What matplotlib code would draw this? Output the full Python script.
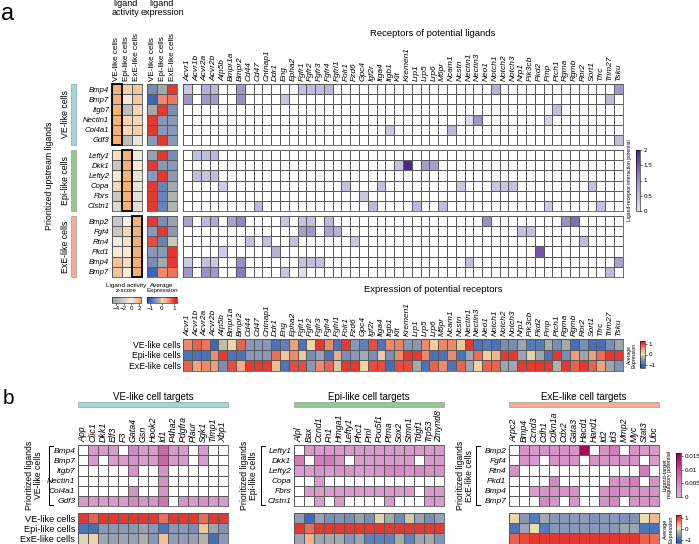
import numpy as np
import matplotlib
matplotlib.use('Agg')
import matplotlib.pyplot as plt
from matplotlib import font_manager
from matplotlib.colors import LinearSegmentedColormap, Normalize
from matplotlib.cm import ScalarMappable
from matplotlib.patches import Rectangle
from matplotlib.lines import Line2D

_names = {f.name for f in font_manager.fontManager.ttflist}
SANS = 'Liberation Sans' if 'Liberation Sans' in _names else 'DejaVu Sans'
NARROW = 'Liberation Sans Narrow' if 'Liberation Sans Narrow' in _names else SANS
plt.rcParams['font.family'] = [SANS, 'DejaVu Sans']

n = np.nan

# ---------------- panel a data ----------------
cell_types = ['VE-like cells', 'Epi-like cells', 'ExE-like cells']
group_names = ['VE-like cells', 'Epi-like cells', 'ExE-like cells']
ve_ligands = ['Bmp4', 'Bmp7', 'Itgb7', 'Nectin1', 'Col4a1', 'Gdf3']
epi_ligands = ['Lefty1', 'Dkk1', 'Lefty2', 'Copa', 'Fbrs', 'Clstn1']
exe_ligands = ['Bmp2', 'Fgf4', 'Rtn4', 'Pkd1', 'Bmp4', 'Bmp7']

# ligand activity z-score (columns: VE, Epi, ExE)
ve_activity = [[2.0, 1.0, 1.3], [2.0, 0.3, 1.2], [2.0, -3.0, 0.8],
               [2.0, 0.8, 0.8], [2.0, 0.7, 1.0], [2.0, -3.0, -0.6]]
epi_activity = [[0.5, 2.0, -0.5], [-2.5, 2.0, 0.2], [0.3, 2.0, -0.8],
                [0.8, 2.0, -0.8], [-2.5, 2.0, -1.0], [-1.5, 2.0, -1.0]]
exe_activity = [[-2.5, 0.0, 2.0], [-2.5, 0.8, 2.0], [-0.3, 0.5, 2.0],
                [0.2, 0.2, 2.0], [1.5, 0.6, 2.0], [1.4, 0.1, 2.0]]

# ligand average expression (columns: VE, Epi, ExE)
ve_lig_expr = [[-0.6, -0.3, 1.0], [-1.0, 0.6, 0.7], [-0.3, 1.0, -0.6],
               [1.0, -0.5, -0.5], [1.0, -0.5, -0.5], [-0.5, 1.0, -0.5]]
epi_lig_expr = [[-0.4, 1.0, -0.6], [1.0, -0.5, -0.5], [-0.5, 1.0, -0.5],
                [1.0, -0.7, -0.3], [1.0, -0.7, -0.2], [1.0, -0.7, -0.2]]
exe_lig_expr = [[1.0, -0.6, -0.4], [-0.5, 1.0, -0.5], [0.9, -0.7, -0.1],
                [-0.5, -0.5, 1.0], [-0.6, -0.3, 1.0], [-1.0, 0.6, 0.7]]

receptors = ['Acvr1', 'Acvr1b', 'Acvr2a', 'Acvr2b', 'Atp5b', 'Bmpr1a', 'Bmpr2', 'Cd44',
             'Cd47', 'Cntnap1', 'Ddr1', 'Eng', 'Epha2', 'Fgfr1', 'Fgfr2', 'Fgfr3', 'Fgfr4',
             'Fgfrl1', 'Folr1', 'Fzd6', 'Gpc4', 'Igf2r', 'Itga4', 'Itgb1', 'Kit', 'Kremen1',
             'Lrp1', 'Lrp5', 'Lrp6', 'M6pr', 'Ncam1', 'Ncstn', 'Nectin1', 'Nectin3', 'Neo1',
             'Notch1', 'Notch2', 'Notch3', 'Nrp1', 'Pik3cb', 'Pkd2', 'Pmp', 'Ptch1', 'Rgma',
             'Rgmb', 'Ror2', 'Sort1', 'Tfrc', 'Trim27', 'Tsku']

# ligand-receptor interaction potential (only non-empty cells)
ve_lr = [
    {'Acvr1': 0.35, 'Acvr2a': 0.6, 'Acvr2b': 0.55, 'Bmpr2': 0.9, 'Fgfr1': 0.4, 'Fgfr2': 0.45,
     'Fgfr3': 0.45, 'Fgfr4': 0.5, 'Notch1': 0.6, 'Tsku': 0.9},
    {'Acvr1': 0.95, 'Acvr2a': 0.9, 'Acvr2b': 0.85, 'Bmpr2': 1.0, 'Eng': 0.35, 'Trim27': 0.5},
    {'Ptch1': 0.45},
    {'Nectin1': 0.08, 'Nectin3': 0.95, 'Pmp': 0.2},
    {'Itgb1': 0.35, 'Ncam1': 0.5},
    {'Tsku': 0.45},
]
epi_lr = [
    {'Acvr1b': 0.45, 'Acvr2a': 0.45, 'Acvr2b': 0.5},
    {'Kit': 0.4, 'Kremen1': 2.0, 'Lrp5': 0.85, 'Lrp6': 0.8},
    {'Acvr1b': 0.45, 'Acvr2a': 0.4, 'Acvr2b': 0.45},
    {'Atp5b': 0.3, 'Folr1': 0.4, 'Itga4': 0.4, 'Ncstn': 0.35, 'Notch1': 0.35, 'Notch2': 0.35,
     'Notch3': 0.4, 'Sort1': 0.4},
    {'Gpc4': 0.35},
    {'Cd47': 0.5, 'Igf2r': 0.5, 'Lrp1': 0.5, 'M6pr': 0.45, 'Pmp': 0.3, 'Tfrc': 0.4},
]
exe_lr = [
    {'Acvr1': 0.8, 'Acvr2a': 0.5, 'Acvr2b': 0.7, 'Bmpr1a': 0.8, 'Bmpr2': 1.1, 'Eng': 0.35,
     'Fgfr1': 0.4, 'Fgfr2': 0.4, 'Fgfr4': 0.5, 'Neo1': 1.0, 'Rgma': 1.0, 'Rgmb': 1.3},
    {'Fgfr1': 0.8, 'Fgfr2': 0.9, 'Fgfr4': 0.75, 'Fgfrl1': 0.6, 'Nrp1': 0.4, 'Pik3cb': 0.4},
    {'Cd44': 0.4, 'Cntnap1': 0.4, 'Epha2': 0.4, 'Fzd6': 0.35, 'Ror2': 0.45},
    {'Atp5b': 0.3, 'Ddr1': 0.6, 'Pkd2': 1.5},
    {'Acvr1': 0.3, 'Acvr2a': 0.4, 'Acvr2b': 0.35, 'Bmpr2': 1.0, 'Fgfr1': 0.4, 'Fgfr2': 0.45,
     'Fgfr3': 0.4, 'Nectin1': 0.4, 'Tsku': 0.8},
    {'Acvr1': 0.9, 'Acvr2a': 1.0, 'Acvr2b': 0.9, 'Bmpr2': 1.2, 'Eng': 0.35, 'Fgfr1': 0.05,
     'Trim27': 0.5},
]

# receptor average expression
rec_expr_ve = [0.6, 0.8, 0.7, -1.0, -0.15, 0.1, 0.8, -0.5, -0.5, -0.5, -0.85, -0.75, 0.5, -0.85,
               0.1, 1.0, 0.6, -0.85, 1.0, -0.5, -0.75, 0.9, -0.85, 0.6, 0.65, -0.5, -0.5, 0.6,
               0.15, 0.6, 0.6, 0.2, 1.0, -0.85, -0.8, -0.85, -0.6, -0.6, -0.35, -0.8, -0.8,
               -0.3, -0.6, -0.3, -0.9, -0.6, -0.9, -0.9, -0.6, -0.35]
rec_expr_epi = [-0.85, -0.85, -0.85, 0.6, 1.0, -0.85, -0.85, -0.5, -0.5, -0.5, 0.75, 0.2, 0.6,
                0.2, -0.6, -0.4, -0.85, 0.4, -0.6, -0.5, -0.3, -0.6, 0.15, -0.6, 0.6, 1.0, 1.0,
                0.6, -0.85, -0.85, 0.6, -0.85, -0.35, 0.75, 0.15, 0.35, 1.0, 1.0, -0.35, 0.15,
                -0.35, -0.85, 1.0, -0.6, 0.5, -0.35, 0.5, 0.75, 1.0, 1.0]
rec_expr_exe = [0.8, 0.45, 0.6, 0.5, -0.6, 0.9, 0.4, 1.0, 1.0, 1.0, 0.3, -0.85, 0.9, 0.9, -0.5,
                0.6, 0.8, -0.1, 1.0, 1.0, 0.1, 0.9, 0.9, -0.9, 0.9, 0.9, -0.3, -0.85, 0.8, 0.6,
                -0.85, 0.8, -0.35, 0.1, 0.8, 0.8, -0.35, -0.35, 1.0, 1.0, 1.0, 1.0, -0.2, 1.0,
                0.8, 1.0, 0.8, 0.45, -0.35, -0.55]

# ---------------- panel b data ----------------
ve_targets = ['App', 'Clic1', 'Dkk1', 'Elf3', 'F3', 'Gata4', 'Gsn', 'Hook2', 'Id1', 'P4ha2',
              'Pdgfra', 'Plaur', 'Sgk1', 'Timp1', 'Xbp1']
epi_targets = ['Alpl', 'Bax', 'Ccnd1', 'Fn1', 'Hmga1', 'Lefty1', 'Phc1', 'Pml', 'Pou5f1', 'Ptma',
               'Sox2', 'Stmn1', 'Tdgf1', 'Trp53', 'Zmynd8']
exe_targets = ['Arpc2', 'Bmp4', 'Ccnd3', 'Cdh1', 'Cdkn1a', 'Cdx2', 'Gata3', 'Hacd1', 'Hand1',
               'Id2', 'Id3', 'Mmp2', 'Myc', 'Stat3', 'Ubc']

ve_reg = [
    [n, .003, .003, .003, n, .005, .003, .003, .008, .003, .003, n, .003, n, n],
    [n, .003, n, .003, .003, .004, .003, .003, .008, .003, .003, n, .003, n, n],
    [n, n, n, n, n, .004, n, n, .004, n, n, n, n, n, n],
    [n, n, n, n, n, n, n, n, .004, n, n, n, n, n, n],
    [n, n, n, n, n, .004, n, n, .004, n, n, n, n, n, n],
    [.003, .003, .003, .003, .003, .005, .004, .004, .007, n, .004, .003, .004, .003, .003],
]
epi_reg = [
    [n, .003, .003, .003, .003, .003, .003, .003, .003, .003, .003, .003, .003, .003, .003],
    [.006, n, .006, .006, .004, n, .003, .003, .003, .003, .003, .003, n, .003, .003],
    [.003, .003, .004, .003, .004, .004, .003, .003, .004, .005, .005, .004, .005, .004, .004],
    [n, n, .003, n, n, n, n, n, n, n, n, n, n, n, n],
    [n, .003, .003, .003, .003, .003, .003, .003, .003, .003, .003, .003, n, .003, .003],
    [n, n, .003, n, .003, n, n, n, n, .003, n, n, n, .003, .003],
]
exe_reg = [
    [n, .004, .003, .004, .004, .004, .004, .015, n, .004, .006, n, .004, .003, .003],
    [n, .004, .003, n, .004, .004, .004, n, .004, .004, .004, .004, .004, n, .003],
    [.004, n, n, n, n, n, n, n, n, n, n, n, n, .006, n],
    [n, n, n, n, .005, n, n, n, n, n, .004, .004, .006, n, .004],
    [n, n, .003, .004, .004, .004, .004, n, n, .004, .005, .004, .004, .004, .004],
    [n, n, n, .005, .004, n, .004, n, n, .004, .005, n, .004, .004, .004],
]

ve_target_expr = [
    [1.0, 0.8, 1.0, 1.0, 1.0, 1.0, 1.0, 1.0, 0.75, 1.0, 1.0, 1.0, 0.75, 1.0, 1.0],
    [-0.85, -0.9, -0.5, -0.5, -0.5, -0.5, -0.4, -0.5, -0.85, -0.5, -0.5, -0.6, 0.2, -0.35, -0.55],
    [-0.05, 0.1, -0.35, -0.4, -0.35, -0.4, -0.25, -0.5, 0.25, -0.45, -0.45, -0.4, -0.2, -0.9, -0.5],
]
epi_target_expr = [
    [-0.45, -0.95, -0.4, -0.6, -0.55, -0.6, -0.4, -0.6, -0.05, -0.3, -0.65, -0.1, -0.4, -0.6, -0.4],
    [1.0, 0.75, 1.0, 1.0, 1.0, 1.0, 1.0, 1.0, 1.0, 1.0, 1.0, 1.0, 1.0, 1.0, 1.0],
    [-0.35, 0.35, -0.35, -0.3, -0.3, -0.55, -0.35, -0.75, -0.75, -0.75, -0.3, -0.75, -0.35, -0.3, -0.55],
]
exe_target_expr = [
    [0.1, -0.5, -0.8, -0.3, -0.5, -0.5, -0.5, -0.45, -0.55, -0.5, -0.5, -0.55, -0.55, 0.05, 0.3],
    [-0.85, -0.35, 0.05, -0.8, -0.5, -0.5, -0.5, -0.5, -0.5, -0.5, -0.5, -0.35, -0.35, -0.85, -0.85],
    [0.8, 0.9, 1.0, 1.0, 1.0, 1.0, 1.0, 1.0, 1.0, 1.0, 1.0, 1.0, 1.0, 0.8, 0.75],
]

# ---------------- colours ----------------
group_colors = ['#9ed8dc', '#92c98c', '#f2ad96']
act_cmap = LinearSegmentedColormap.from_list(
    'act', [(0, '#9c9c9c'), (0.4, '#cfcfcc'), (0.667, '#f6f0e2'), (1.0, '#f4a15a')])
act_norm = Normalize(-5, 2.5)
exp_cmap = LinearSegmentedColormap.from_list(
    'exp', [(0, '#2a5bb3'), (0.12, '#3d6bb9'), (0.3, '#8a98b6'), (0.42, '#b1b2aa'),
            (0.5, '#ece3b0'), (0.7, '#ef9f7b'), (0.9, '#e43a30'), (1.0, '#dd2020')])
exp_norm = Normalize(-1.25, 1.25)
lr_cmap = LinearSegmentedColormap.from_list(
    'lr', [(0, '#e4e4f2'), (0.2, '#c2c2e0'), (0.5, '#9b90c6'), (0.75, '#7058a9'), (1, '#4a288a')])
lr_cmap.set_bad('white')
lr_norm = Normalize(0, 2)
reg_cmap = LinearSegmentedColormap.from_list(
    'reg', [(0, '#dcb4da'), (0.3, '#d58cc4'), (0.6, '#c8539a'), (1, '#99004c')])
reg_cmap.set_bad('white')
reg_norm = Normalize(0, 0.016)

W, H = 699, 544
fig = plt.figure(figsize=(W / 100, H / 100), dpi=100)


def fx(x):
    return x / W


def fy(y):
    return 1 - y / H


def px_axes(x0, y0, x1, y1):
    return fig.add_axes([fx(x0), fy(y1), (x1 - x0) / W, (y1 - y0) / H])


def ftext(x, y, s, **kw):
    kw.setdefault('ha', 'center')
    kw.setdefault('va', 'center')
    fig.text(fx(x), fy(y), s, **kw)


def heatmap(ax, data, cmap, norm, ec='#5a5a5a', lw=0.5):
    arr = np.ma.masked_invalid(np.array(data, dtype=float))
    ax.pcolormesh(arr, cmap=cmap, norm=norm, edgecolors=ec, linewidth=lw)
    ax.set_xlim(0, arr.shape[1])
    ax.set_ylim(arr.shape[0], 0)
    ax.set_xticks([])
    ax.set_yticks([])
    ax.tick_params(length=0, pad=2)
    for s in ax.spines.values():
        s.set_linewidth(0.6)
        s.set_color(ec)
    return ax


def top_labels(ax, labels, size, italic=True):
    ax.xaxis.tick_top()
    ax.set_xticks(np.arange(len(labels)) + 0.5)
    ax.set_xticklabels(labels, rotation=90, fontsize=size,
                       fontstyle='italic' if italic else 'normal')


def left_labels(ax, labels, size, italic=True, family=NARROW):
    ax.set_yticks(np.arange(len(labels)) + 0.5)
    ax.set_yticklabels(labels, fontsize=size, family=family,
                       fontstyle='italic' if italic else 'normal')


def add_cbar(rect, cmap, norm, ticks, ticklabels, orientation='vertical'):
    cax = px_axes(*rect)
    cb = fig.colorbar(ScalarMappable(norm=norm, cmap=cmap), cax=cax, orientation=orientation)
    cb.set_ticks(ticks)
    cb.set_ticklabels(ticklabels)
    cb.outline.set_linewidth(0.4)
    cax.tick_params(labelsize=4.5, length=1.5, width=0.4, pad=1)
    return cb


def lr_matrix(rows):
    return [[r.get(rec, n) for rec in receptors] for r in rows]


# ---------------- panel a ----------------
ftext(8, 14, 'a', fontsize=17)
ftext(126, 8, 'ligand\nactivity', fontsize=6.5, linespacing=1.0)
ftext(162, 8, 'ligand\nexpression', fontsize=6.5, linespacing=1.0)
ftext(433, 34, 'Receptors of potential ligands', fontsize=6.8, family=NARROW)
ftext(50, 176, 'Prioritized upstream ligands', rotation=90, fontsize=6.3)

groups = [(ve_ligands, ve_activity, ve_lig_expr, ve_lr),
          (epi_ligands, epi_activity, epi_lig_expr, epi_lr),
          (exe_ligands, exe_activity, exe_lig_expr, exe_lr)]
tops = [84, 150, 216]
gh = 61
for g, (ligs, act, lexp, lr) in enumerate(groups):
    top = tops[g]
    bot = top + gh
    ax = heatmap(px_axes(112, top, 141.5, bot), act, act_cmap, act_norm)
    left_labels(ax, ligs, 5.6)
    ax.add_patch(Rectangle((g, 0), 1, len(ligs), fill=False, ec='black', lw=1.3, zorder=5,
                           clip_on=False))
    ax2 = heatmap(px_axes(147, top, 177, bot), lexp, exp_cmap, exp_norm)
    ax3 = heatmap(px_axes(183.3, top, 622.7, bot), lr_matrix(lr), lr_cmap, lr_norm)
    if g == 0:
        top_labels(ax, cell_types, 5.9, italic=False)
        top_labels(ax2, cell_types, 5.9, italic=False)
        top_labels(ax3, receptors, 6.0)
    fig.add_artist(Rectangle((fx(70.5), fy(bot)), 5.5 / W, gh / H, transform=fig.transFigure,
                             fc=group_colors[g], ec='#8a8a8a', lw=0.4))
    ftext(65, top + gh / 2, group_names[g], rotation=90, fontsize=6.3)

# colour scales, panel a
ftext(126, 288, 'Ligand activity\nz-score', fontsize=4.6, linespacing=1.0, family=NARROW)
add_cbar((112, 297, 141, 303), act_cmap, act_norm, [-4, -2, 0, 2],
         ['\u22124', '\u22122', '0', '2'], orientation='horizontal')
ftext(162, 288, 'Average\nExpression', fontsize=4.6, linespacing=1.0, family=NARROW)
add_cbar((147, 297, 177, 303), exp_cmap, exp_norm, [-1, 0, 1],
         ['\u22121', '0', '1'], orientation='horizontal')

add_cbar((636, 150, 640, 211), lr_cmap, lr_norm, [0, 0.5, 1, 1.5, 2],
         ['0', '0.5', '1', '1.5', '2'])
ftext(630, 180, 'Ligand-receptor interaction potential', rotation=90, fontsize=3.6)

ftext(433, 290, 'Expression of potential receptors', fontsize=6.8, family=NARROW)
axr = heatmap(px_axes(183.3, 339, 622.7, 371), [rec_expr_ve, rec_expr_epi, rec_expr_exe],
              exp_cmap, exp_norm)
top_labels(axr, receptors, 6.0)
left_labels(axr, cell_types, 6.2, italic=False)
add_cbar((640, 341, 645, 368), exp_cmap, exp_norm, [-1, 0, 1], ['\u22121', '0', '1'])
ftext(632, 355, 'Average\nExpression', rotation=90, fontsize=3.6, linespacing=1.0)

# ---------------- panel b ----------------
ftext(8, 399, 'b', fontsize=15)
sections = [
    (78, 'VE-like cell targets', ve_targets, ve_ligands, ve_reg, ve_target_expr, 49, 34,
     'VE-like cells'),
    (294, 'Epi-like cell targets', epi_targets, epi_ligands, epi_reg, epi_target_expr, 261, 249,
     'Epi-like cells'),
    (509, 'ExE-like cell targets', exe_targets, exe_ligands, exe_reg, exe_target_expr, 476, 465,
     'ExE-like cells'),
]
for i, (x0, title, targets, ligs, reg, texp, xb, xl, gname) in enumerate(sections):
    x1 = x0 + 150
    ftext((x0 + x1) / 2, 397, title, fontsize=7)
    fig.add_artist(Rectangle((fx(x0), fy(407)), 150 / W, 5 / H, transform=fig.transFigure,
                             fc=group_colors[i], ec='#8a8a8a', lw=0.4))
    ax = heatmap(px_axes(x0, 445, x1, 506), reg, reg_cmap, reg_norm)
    top_labels(ax, targets, 6.4)
    left_labels(ax, ligs, 6.0, family=SANS)
    axe = heatmap(px_axes(x0, 513, x1, 543.5), texp, exp_cmap, exp_norm)
    if i == 0:
        left_labels(axe, cell_types, 6.6, italic=False, family=SANS)
    # bracket
    fig.add_artist(Line2D([fx(xb + 4), fx(xb), fx(xb), fx(xb + 4)],
                          [fy(446), fy(446), fy(505), fy(505)],
                          transform=fig.transFigure, color='black', lw=0.7))
    ftext(xl, 475.5, 'Prioritized ligands\n' + gname, rotation=90, fontsize=6.2,
          linespacing=1.1)

add_cbar((676, 453, 681, 497), reg_cmap, reg_norm, [0, 0.005, 0.01, 0.015],
         ['0', '0.005', '0.01', '0.015'])
ftext(667, 475, 'Ligand-target\nregulatory potential', rotation=90, fontsize=4.0,
      linespacing=1.0)
add_cbar((676, 515, 681, 543), exp_cmap, exp_norm, [-1, 0, 1], ['\u22121', '0', '1'])
ftext(668, 529, 'Average\nExpression', rotation=90, fontsize=4.0, linespacing=1.0)

fig.savefig('out.png', dpi=100)
